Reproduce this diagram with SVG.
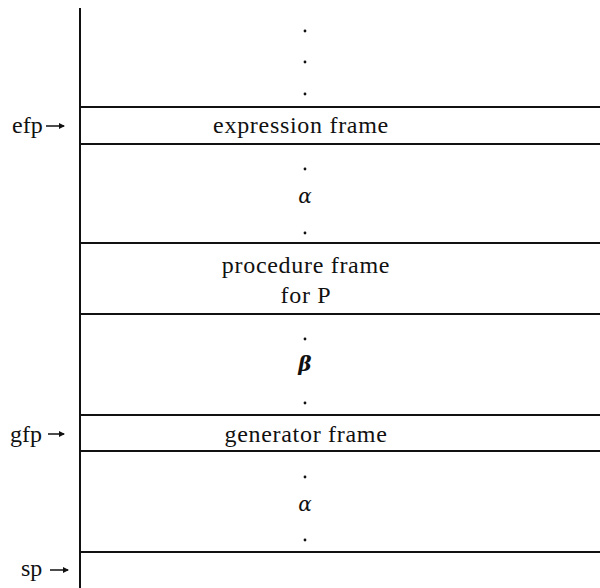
<svg xmlns="http://www.w3.org/2000/svg" width="600" height="588" viewBox="0 0 600 588">
<style>
.t{font-family:"Liberation Serif","Times New Roman",serif;font-size:24px;fill:#111;letter-spacing:0.7px}
.c{text-anchor:middle}
.g{font-family:"DejaVu Serif","Liberation Serif",serif;font-style:italic;font-size:20px;fill:#111;text-anchor:middle}
.ln{stroke:#111;stroke-width:2;fill:none}
.dot{fill:#111}
</style>
<defs>
<marker id="ah" markerWidth="6" markerHeight="6" refX="5" refY="3" orient="auto" markerUnits="userSpaceOnUse">
<path d="M0,0 L6,3 L0,6 Z" fill="#111"/>
</marker>
</defs>
<g id="stack">
<line class="ln" x1="80" y1="8" x2="80" y2="588"/>
<line class="ln" x1="80" y1="107" x2="600" y2="107"/>
<line class="ln" x1="80" y1="144" x2="600" y2="144"/>
<line class="ln" x1="80" y1="243" x2="600" y2="243"/>
<line class="ln" x1="80" y1="314" x2="600" y2="314"/>
<line class="ln" x1="80" y1="415" x2="600" y2="415"/>
<line class="ln" x1="80" y1="451" x2="600" y2="451"/>
<line class="ln" x1="80" y1="552" x2="600" y2="552"/>
</g>
<g id="top-dots">
<circle class="dot" cx="305" cy="31" r="1.4"/>
<circle class="dot" cx="305" cy="62" r="1.4"/>
<circle class="dot" cx="305" cy="94" r="1.4"/>
</g>
<g id="expression-frame"><text class="t c" x="301" y="133">expression frame</text></g>
<g id="alpha1">
<circle class="dot" cx="305" cy="169" r="1.4"/>
<text class="g" x="305" y="203">α</text>
<circle class="dot" cx="305" cy="233" r="1.4"/>
</g>
<g id="procedure-frame">
<text class="t c" x="306" y="273">procedure frame</text>
<text class="t c" x="306" y="303">for P</text>
</g>
<g id="beta">
<circle class="dot" cx="305" cy="339" r="1.4"/>
<text class="g" x="305" y="371" style="font-weight:bold">β</text>
<circle class="dot" cx="305" cy="403" r="1.4"/>
</g>
<g id="generator-frame"><text class="t c" x="306" y="442">generator frame</text></g>
<g id="alpha2">
<circle class="dot" cx="305" cy="477" r="1.4"/>
<text class="g" x="305" y="511">α</text>
<circle class="dot" cx="305" cy="540" r="1.4"/>
</g>
<g id="efp"><text class="t" x="12" y="133" style="letter-spacing:0">efp</text></g>
<g id="gfp"><text class="t" x="10" y="442" style="letter-spacing:0">gfp</text></g>
<g id="sp"><text class="t" x="21" y="576" style="letter-spacing:0">sp</text></g>
<g id="connectors">
<line x1="46" y1="126" x2="64" y2="126" stroke="#111" stroke-width="1.5" marker-end="url(#ah)"/>
<line x1="48" y1="434" x2="64" y2="434" stroke="#111" stroke-width="1.5" marker-end="url(#ah)"/>
<line x1="50" y1="570" x2="68" y2="570" stroke="#111" stroke-width="1.5" marker-end="url(#ah)"/>
</g>
</svg>
